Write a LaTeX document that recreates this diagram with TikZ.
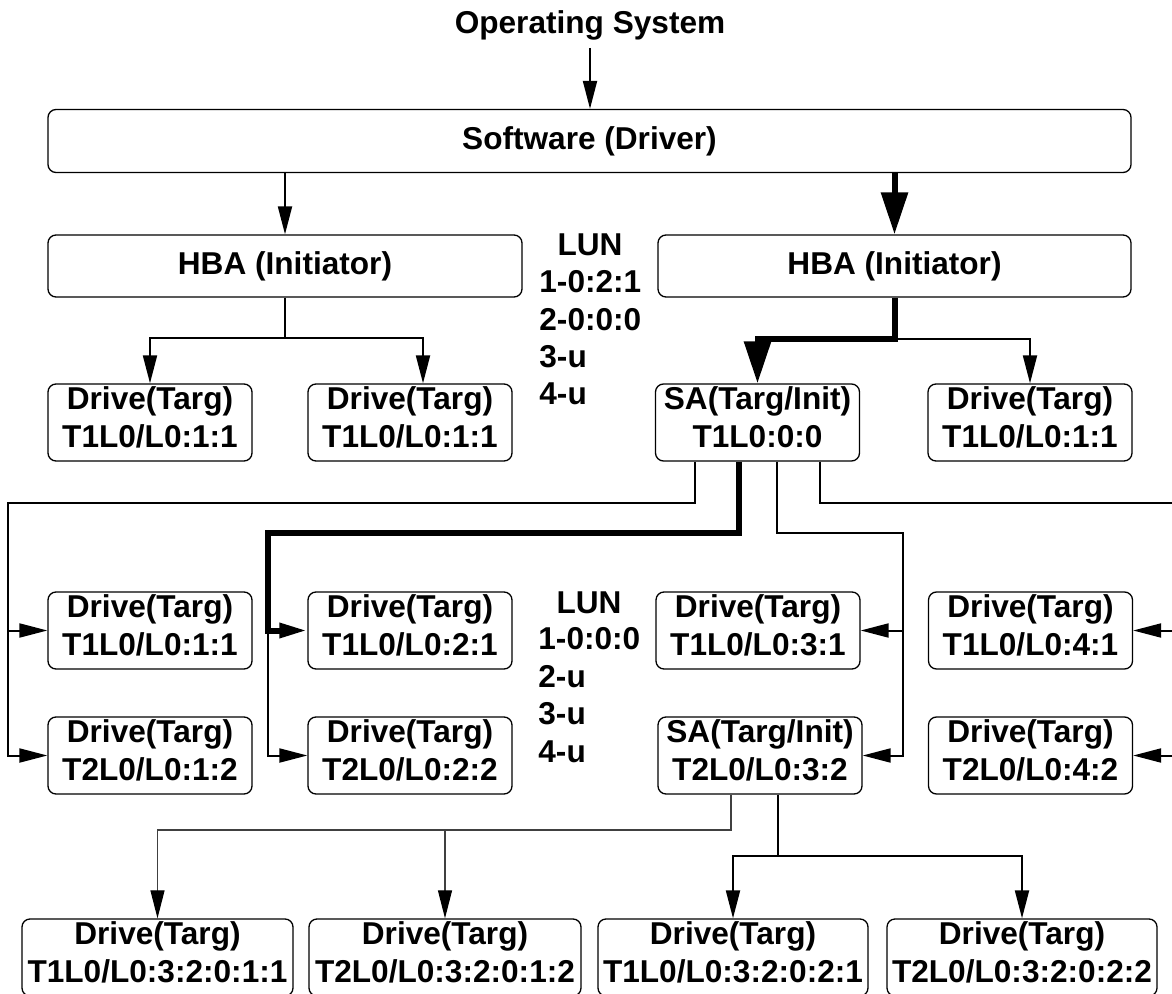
\documentclass[tikz,border=0pt]{standalone}
\usepackage{fontspec}
\setmainfont{Liberation Sans}
\usetikzlibrary{arrows.meta,calc}

\newcommand\lbl{\fontsize{15.8pt}{18.7pt}\selectfont\bfseries}

\tikzset{
  conn/.style={line width=1pt},
  heavy/.style={line width=3pt},
  faint/.style={line width=0.6pt,black!75},
  bigarr/.tip={Triangle[length=21pt,width=13pt]},
  darkarr/.tip={Triangle[length=14pt,width=7pt,color=black]},
  >={Triangle[length=14pt,width=7pt]},
  unitbox/.style={draw,line width=0.65pt,rounded corners=4pt,inner sep=0pt,font=\lbl},
  devbox/.style={unitbox,align=center,text height=31.5pt,text depth=7pt,minimum width=#1},
  devbox/.default=102pt,
  luntext/.style={font=\lbl,inner sep=0pt}
}

\begin{document}
\begin{tikzpicture}[x=0.5pt,y=-0.5pt]

\useasboundingbox (0,0) rectangle (1172,994);
\clip (0,0) rectangle (1172,994);
\fill[white] (0,0) rectangle (1172,994);

% Top level
\node[font=\lbl,anchor=base] (os) at (590,34) {Operating System};
\node[unitbox,minimum width=541.5pt,minimum height=31.5pt] (sw) at (589.5,141) {Software (Driver)};
\node[unitbox,minimum width=237pt,minimum height=31pt] (hbaL) at (285,266) {HBA (Initiator)};
\node[unitbox,minimum width=236.5pt,minimum height=31pt] (hbaR) at (894.5,266) {HBA (Initiator)};

% First level of targets
\node[devbox] (l1) at (150,422.5) {Drive(Targ)\\T1L0/L0:1:1};
\node[devbox] (l2) at (410,422.5) {Drive(Targ)\\T1L0/L0:1:1};
\node[devbox] (sa) at (757.5,422.5) {SA(Targ/Init)\\T1L0:0:0};
\node[devbox] (r1) at (1030,422.5) {Drive(Targ)\\T1L0/L0:1:1};

% Targets behind the first SA
\node[devbox] (c1) at (150,630.5) {Drive(Targ)\\T1L0/L0:1:1};
\node[devbox] (c2) at (410,630.5) {Drive(Targ)\\T1L0/L0:2:1};
\node[devbox] (c3) at (758,630.5) {Drive(Targ)\\T1L0/L0:3:1};
\node[devbox] (c4) at (1030.5,630.5) {Drive(Targ)\\T1L0/L0:4:1};
\node[devbox] (d1) at (150,755.5) {Drive(Targ)\\T2L0/L0:1:2};
\node[devbox] (d2) at (410,755.5) {Drive(Targ)\\T2L0/L0:2:2};
\node[devbox] (d3) at (760,755.5) {SA(Targ/Init)\\T2L0/L0:3:2};
\node[devbox] (d4) at (1030.5,755.5) {Drive(Targ)\\T2L0/L0:4:2};

% Targets behind the second SA
\node[devbox=135.5pt] (b1) at (157.5,957.5) {Drive(Targ)\\T1L0/L0:3:2:0:1:1};
\node[devbox=136pt] (b2) at (445,957.5) {Drive(Targ)\\T2L0/L0:3:2:0:1:2};
\node[devbox=135pt] (b3) at (733,957.5) {Drive(Targ)\\T1L0/L0:3:2:0:2:1};
\node[devbox=135pt] (b4) at (1022,957.5) {Drive(Targ)\\T2L0/L0:3:2:0:2:2};

% LUN tables
\node[luntext,anchor=base] (lunA) at (590,256) {LUN};
\node[luntext,anchor=base west,align=left] (lunAlist) at (539,405) {1-0:2:1\\2-0:0:0\\3-u\\4-u};
\node[luntext,anchor=base] (lunB) at (589,613) {LUN};
\node[luntext,anchor=base west,align=left] (lunBlist) at (538,762) {1-0:0:0\\2-u\\3-u\\4-u};

% Driver path
\draw[conn,->] (os.south) -- (os.south |- sw.north);
\draw[conn,->] (sw.south -| hbaL.north) -- (hbaL.north);
\draw[heavy,-bigarr] (sw.south -| hbaR.north) -- (hbaR.north);

% Left HBA
\draw[conn] (hbaL.south) -- ++(0,40) coordinate (jL);
\draw[conn,->] (jL) -| (l1.north);
\draw[conn,->] (jL) -| ($(l2.north)+(13,0)$);

% Right HBA
\draw[heavy,-bigarr] (hbaR.south) -- ++(0,41) coordinate (jR) -| (sa.north);
\draw[conn,->] (jR) -| (r1.north);

% Buses below the first SA
\coordinate (busW) at (8,503);
\coordinate (busE) at (1180,503);
\coordinate (busM) at (268,533);
\coordinate (busR) at (903,533);

\draw[conn,->] ($(sa.south)+(-62.5,0)$) |- (busW) |- (d1.west);
\draw[conn,->] (busW |- c1.west) -- (c1.west);
\draw[heavy,->] ($(sa.south)+(-18.5,0)$) |- (busM) |- (c2.west);
\draw[conn,->] (busM |- c2.west) |- (d2.west);
\draw[conn,->] ($(sa.south)+(19.5,0)$) |- (busR) |- (d3.east);
\draw[conn,->] (busR |- c3.east) -- (c3.east);
\draw[conn] ($(sa.south)+(62.5,0)$) |- (busE) -- (busE |- d4.east);
\draw[conn,->] (busE |- c4.east) -- (c4.east);
\draw[conn,->] (busE |- d4.east) -- (d4.east);

% Buses below the second SA
\coordinate (busB) at (0,830);
\coordinate (busC) at (0,856);

\draw[faint,-darkarr] ($(d3.south)+(-29,0)$) |- (busB -| b1.north) -- (b1.north);
\draw[faint,-darkarr] (busB -| b2.north) -- (b2.north);
\draw[conn,->] ($(d3.south)+(18,0)$) coordinate (p6) |- (busC -| b3.north) -- (b3.north);
\draw[conn,->] (p6 |- busC) -| (b4.north);

\end{tikzpicture}
\end{document}
